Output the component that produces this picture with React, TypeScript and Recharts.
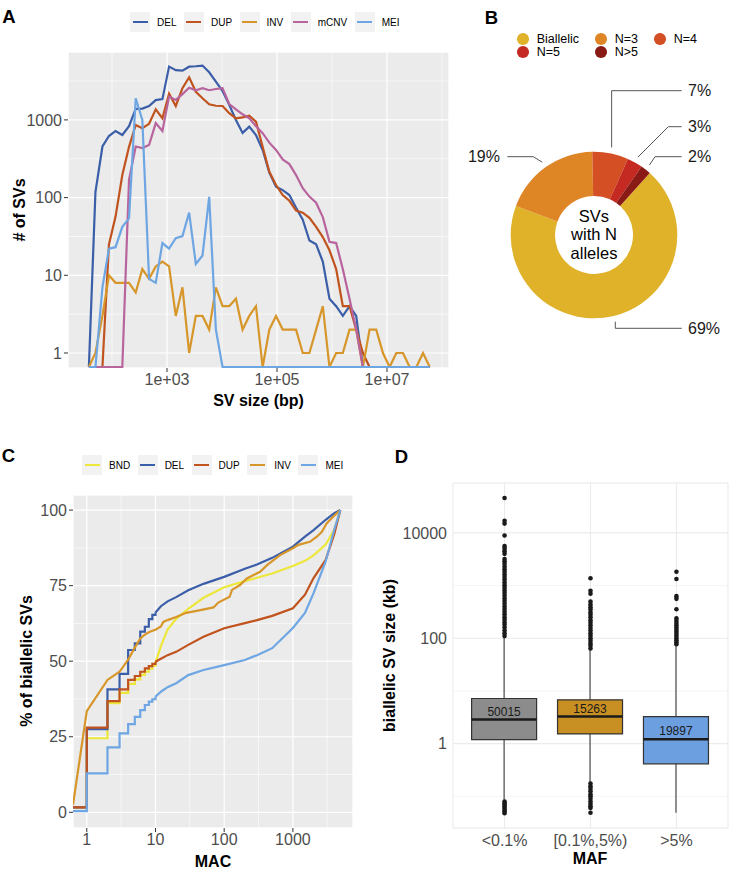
import React from "react"
import {
  Bar,
  CartesianGrid,
  Cell,
  ComposedChart,
  Line,
  LineChart,
  Pie,
  PieChart,
  Scatter,
  XAxis,
  YAxis,
} from "recharts"

const FONT = '"Liberation Sans", Arial, Helvetica, sans-serif'
const TICK = { fill: "#4d4d4d", fontSize: 16, fontFamily: FONT }
const PANEL_BG = "#ebebeb"

// ---------- A: SV size distribution ----------
// bin centres (bp)
const sizeBins = [
  38, 50, 67, 88, 116, 154, 204, 270, 356, 472, 624, 825, 1091, 1444, 1910, 2527, 3342, 4421, 5848,
  7736, 10233, 13536, 17906, 23686, 31333, 41448, 54828, 72528, 95940, 126910, 167880, 222080,
  293760, 388590, 514040, 679980, 899490, 1189800, 1574000, 2082100, 2754200, 3643300, 4819500,
  6375300, 8433300, 11155000, 14757000, 19520000, 25823000, 34160000, 45186000, 59772000,
]
const countDEL = [
  0, 118, 455, 620, 720, 640, 830, 1390, 1400, 1510, 1800, 1850, 4850, 4370, 4300, 4840, 4900, 5000,
  4100, 3100, 2350, 1560, 1000, 680, 820, 640, 410, 210, 138, 125, 108, 74, 52, 28, 25, 15, 5, 4, 3,
  4, 3, 0, 0, 0, 0, 0, 0, 0, 0, 0, 0, 0,
]
const countDUP = [
  0, 0, 0, 25, 57, 195, 450, 860, 780, 890, 1370, 1050, 2180, 1510, 2560, 3540, 2300, 1900, 1590,
  1520, 1510, 1220, 1050, 1080, 1130, 950, 450, 215, 145, 108, 91, 68, 64, 55, 42, 31, 21, 12, 4, 4,
  2, 1, 0, 0, 0, 0, 0, 0, 0, 0, 0, 0,
]
const countINV = [
  0, 1, 3, 10, 8, 8, 8, 6, 12, 9, 13, 15, 13, 3, 7, 1, 3, 3, 2, 7, 4, 4, 5, 2, 3, 4, 0, 2, 3, 2, 2, 2,
  1, 1, 2, 4, 0, 1, 1, 2, 2, 0, 2, 2, 1, 0, 1, 1, 0, 0, 1, 0,
]
const countMCNV = [
  0, 0, 0, 0, 0, 0, 170, 455, 435, 475, 910, 720, 2000, 1810, 2150, 2600, 2410, 2560, 2410, 2500,
  2560, 1600, 1370, 1180, 1050, 830, 675, 510, 410, 310, 270, 195, 132, 103, 86, 56, 27, 26, 12, 5, 2,
  0, 0, 0, 0, 0, 0, 0, 0, 0, 0, 0,
]
const countMEI = [
  0, 0, 7, 22, 23, 42, 54, 1900, 1000, 9, 8, 26, 22, 30, 32, 64, 14, 18, 102, 2, 0, 0, 0, 0, 0, 0, 0,
  0, 0, 0, 0, 0, 0, 0, 0, 0, 0, 0, 0, 0, 0, 0, 0, 0, 0, 0, 0, 0, 0, 0, 0, 0,
]
const seriesA = [
  { name: "DEL", color: "#3b5ea8", values: countDEL },
  { name: "DUP", color: "#c0531e", values: countDUP },
  { name: "INV", color: "#d6962a", values: countINV },
  { name: "mCNV", color: "#b8649d", values: countMCNV },
  { name: "MEI", color: "#6ea6e3", values: countMEI },
]
const FLOOR = 0.66 // empty bins sit on the panel floor
const sizeTable = sizeBins.map((size, i) => {
  const row: Record<string, number> = { size }
  seriesA.forEach((s) => {
    row[s.name] = s.values[i] > 0 ? s.values[i] : FLOOR
  })
  return row
})

// ---------- B: number of alleles ----------
const alleleClasses = ["Biallelic", "N=3", "N=4", "N=5", "N>5"]
const allelePct = [69, 19, 7, 3, 2]
const alleleColors = ["#dfb22a", "#de8626", "#d44f23", "#c42a21", "#8a1a15"]
const pieData = alleleClasses.map((name, i) => ({ name, value: allelePct[i] }))

// ---------- C: cumulative MAC ----------
const macStep = [0.63, 1, 2, 3, 4, 5, 6, 7, 8, 9, 10]
const macSmooth = [10, 12, 15, 20, 30, 50, 100, 200, 300, 500, 1000, 1500, 2000, 3000, 4000, 4900]
const macInv = [
  0.63, 1, 2, 3, 4, 5, 6, 7, 8, 9, 10, 12, 13, 15, 20, 28, 45, 70, 82, 120, 130, 170, 214, 333, 420,
  650, 1000, 1200, 1770, 2230, 2640, 3100, 3670, 4100, 4900,
]
const bndStep = [1.6, 24.5, 36.1, 39.5, 42.5, 44, 45.5, 46.5, 47.5, 48.5, 49.5]
const bndSmooth = [49.5, 55, 60.5, 64, 67.3, 71, 74.5, 76.5, 77.6, 79, 81.5, 83.2, 85, 88.6, 93.5, 100]
const delStep = [1.6, 27.5, 40.7, 45.8, 53.7, 55.9, 59.8, 61.4, 63.9, 65.3, 66.1]
const delSmooth = [66.1, 68.2, 69.8, 71.2, 73.5, 75.6, 77.9, 80.6, 82, 84.2, 87.9, 91.2, 93.4, 96.8, 99, 100]
const dupStep = [1.6, 28, 36.8, 40.7, 43.8, 45.1, 46.5, 47.6, 48.4, 49.1, 49.8]
const dupSmooth = [49.8, 50.8, 52, 53.1, 55.4, 58.1, 60.9, 62.6, 63.6, 65, 67.5, 72, 77.5, 83.5, 92, 100]
const meiStep = [0.4, 12.9, 21.5, 26.1, 29.2, 31.6, 33.8, 35.5, 36.6, 37.4, 38.3]
const meiSmooth = [38.3, 39.9, 41.4, 42.7, 45.4, 47.1, 48.7, 50.4, 52, 54.3, 61, 66, 72.5, 83, 93.5, 100]
const invCum = [
  2.5, 33.5, 43.8, 46.5, 50.5, 54.5, 57.5, 58.8, 59.6, 60.1, 60.4, 61.5, 63, 63.6, 64.6, 66, 66.9,
  67.8, 69.4, 71.3, 73.6, 75.2, 77.4, 79.6, 81.8, 85.1, 87.4, 88.5, 89.5, 91.2, 92.8, 95.6, 97.3, 98.4,
  100,
]
const seriesC = [
  { name: "BND", color: "#ede63b", step: bndStep, smooth: bndSmooth },
  { name: "DEL", color: "#3b5ea8", step: delStep, smooth: delSmooth },
  { name: "DUP", color: "#c0531e", step: dupStep, smooth: dupSmooth },
  { name: "INV", color: "#d6962a", step: null, smooth: invCum },
  { name: "MEI", color: "#6ea6e3", step: meiStep, smooth: meiSmooth },
]
const macRows = new Map<number, Record<string, number>>()
const putMac = (mac: number, key: string, v: number) => {
  const row = macRows.get(mac) ?? { mac }
  row[key] = v
  macRows.set(mac, row)
}
seriesC.forEach((s) => {
  if (s.step) {
    macStep.forEach((m, i) => putMac(m, s.name + "_s", s.step![i]))
    macSmooth.forEach((m, i) => putMac(m, s.name + "_l", s.smooth[i]))
  } else {
    macInv.forEach((m, i) => putMac(m, s.name + "_l", s.smooth[i]))
  }
})
const macTable = [...macRows.values()].sort((a, b) => a.mac - b.mac)

// ---------- D: size by MAF ----------
const mafGroups = ["<0.1%", "[0.1%,5%)", ">5%"]
const groupN = ["50015", "15263", "19897"]
const boxColors = ["#8c8c8c", "#c88f22", "#6c9fe0"]
const boxQ1 = [1.19, 1.53, 0.415]
const boxMedian = [2.87, 3.27, 1.21]
const boxQ3 = [7.2, 6.8, 3.27]
const whiskerLow = [0.086, 0.18, 0.049]
const whiskerHigh = [103, 62, 71]
const outliersLow = [
  [0.08, 0.075, 0.07, 0.065, 0.06, 0.056, 0.052, 0.048],
  [0.175, 0.155, 0.14, 0.125, 0.11, 0.1, 0.09, 0.08, 0.072, 0.065, 0.06, 0.049],
  [],
]
const outliersHigh = [
  [
    110, 125, 140, 160, 180, 200, 225, 250, 285, 320, 360, 400, 450, 510, 570, 640, 720, 810, 910,
    1020, 1150, 1300, 1450, 1630, 1830, 2050, 2300, 2600, 2900, 3200, 4000, 4500, 5000, 5600, 8900,
    15000, 17000, 46000,
  ],
  [64, 72, 80, 90, 100, 112, 125, 140, 157, 176, 197, 220, 250, 280, 310, 350, 390, 440, 500, 700, 800, 1380],
  [77, 84, 92, 100, 110, 121, 133, 146, 160, 176, 195, 215, 240, 355, 560, 630, 1330, 1830],
]
const boxTable = mafGroups.map((maf, i) => ({
  maf,
  whisker: [whiskerLow[i], whiskerHigh[i]],
  box: [boxQ1[i], boxQ3[i]],
  median: [boxMedian[i], boxMedian[i]],
  n: groupN[i],
}))
const outlierPts = mafGroups.flatMap((_, i) =>
  [...outliersLow[i], ...outliersHigh[i]].map((v) => ({ g: i, v })),
)

const sci = (v: number) => `1e+${String(Math.round(Math.log10(v))).padStart(2, "0")}`

function LineLegend({ items, left, top }: { items: { name: string; color: string }[]; left: number; top: number }) {
  return (
    <div style={{ position: "absolute", left, top, display: "flex", alignItems: "center", fontSize: 10, fontFamily: FONT }}>
      {items.map((it) => (
        <div key={it.name} style={{ display: "flex", alignItems: "center", marginRight: 7.5 }}>
          <div style={{ width: 20, height: 20, background: "#f2f2f2", position: "relative" }}>
            <div style={{ position: "absolute", left: 2.5, right: 2.5, top: 9, height: 2.2, background: it.color }} />
          </div>
          <span style={{ marginLeft: 7 }}>{it.name}</span>
        </div>
      ))}
    </div>
  )
}

function PanelA() {
  const domX: [number, number] = [15.85, 1.34e8]
  const domY: [number, number] = [0.641, 7480]
  return (
    <LineChart width={460} height={400} data={sizeTable} margin={{ top: 52, right: 11, bottom: 0, left: 8 }}>
      <CartesianGrid xAxisId="m" yAxisId="m" fill={PANEL_BG} fillOpacity={1} stroke="#fff" strokeWidth={0.6} />
      <CartesianGrid stroke="#fff" strokeWidth={1.2} />
      <XAxis xAxisId="m" dataKey="size" type="number" scale="log" domain={domX} ticks={[1e2, 1e4, 1e6, 1e8]} allowDataOverflow hide />
      <YAxis yAxisId="m" type="number" scale="log" domain={domY} ticks={[3.16, 31.6, 316, 3162]} allowDataOverflow hide />
      <XAxis
        dataKey="size"
        type="number"
        scale="log"
        domain={domX}
        ticks={[1e3, 1e5, 1e7]}
        tickFormatter={sci}
        allowDataOverflow
        axisLine={false}
        stroke="#333"
        tickSize={4}
        tickMargin={2}
        tick={TICK}
        height={32}
      />
      <YAxis
        type="number"
        scale="log"
        domain={domY}
        ticks={[1, 10, 100, 1000]}
        allowDataOverflow
        axisLine={false}
        stroke="#333"
        tickSize={4}
        tickMargin={2}
        tick={TICK}
        width={60}
      />
      {seriesA.map((s) => (
        <Line key={s.name} dataKey={s.name} type="linear" stroke={s.color} strokeWidth={2.2} dot={false} activeDot={false} isAnimationActive={false} />
      ))}
    </LineChart>
  )
}

const pieLabelLayout: Record<string, { ly: number; ex: number | null; endX: number; tx: number; anchor: "start" | "end" }> = {
  Biallelic: { ly: 93.3, ex: null, endX: 87.7, tx: 94, anchor: "start" },
  "N=3": { ly: -78.3, ex: -60.7, endX: -86.7, tx: -94, anchor: "end" },
  "N=4": { ly: -144.3, ex: null, endX: 87.7, tx: 94, anchor: "start" },
  "N=5": { ly: -108.3, ex: 74.3, endX: 87.7, tx: 94, anchor: "start" },
  "N>5": { ly: -78.3, ex: 61, endX: 87.7, tx: 94, anchor: "start" },
}

function renderPieLabel(props: any) {
  const { cx, cy, midAngle, outerRadius, percent, name } = props
  const L = pieLabelLayout[name]
  const rad = (-midAngle * Math.PI) / 180
  const sx = cx + (outerRadius + 6) * Math.cos(rad)
  const sy = cy + (outerRadius + 6) * Math.sin(rad)
  const ex = L.ex === null ? sx : cx + L.ex
  const ly = cy + L.ly
  return (
    <g>
      <polyline points={`${sx},${sy} ${ex},${ly} ${cx + L.endX},${ly}`} fill="none" stroke="#555" strokeWidth={1} />
      <text x={cx + L.tx} y={ly} textAnchor={L.anchor} dominantBaseline="central" fontSize={16} fontFamily={FONT} fill="#1a1a1a">
        {`${Math.round(percent * 100)}%`}
      </text>
    </g>
  )
}

function PanelB() {
  return (
    <PieChart width={296} height={330} margin={{ top: 0, right: 0, bottom: 0, left: 0 }}>
      <Pie
        data={pieData}
        dataKey="value"
        nameKey="name"
        cx={154}
        cy={195}
        innerRadius={39}
        outerRadius={83.3}
        startAngle={48}
        endAngle={-312}
        stroke="none"
        label={renderPieLabel}
        labelLine={false}
        isAnimationActive={false}
      >
        {pieData.map((d, i) => (
          <Cell key={d.name} fill={alleleColors[i]} />
        ))}
      </Pie>
    </PieChart>
  )
}

function PanelC() {
  const domX: [number, number] = [0.63, 7500]
  const domY: [number, number] = [-5.2, 105]
  return (
    <LineChart width={365} height={440} data={macTable} margin={{ top: 65, right: 12, bottom: 10, left: 8 }}>
      <CartesianGrid xAxisId="m" yAxisId="m" fill={PANEL_BG} fillOpacity={1} stroke="#fff" strokeWidth={0.6} />
      <CartesianGrid stroke="#fff" strokeWidth={1.2} />
      <XAxis xAxisId="m" dataKey="mac" type="number" scale="log" domain={domX} ticks={[3.16, 31.6, 316, 3162]} allowDataOverflow hide />
      <YAxis yAxisId="m" type="number" domain={domY} ticks={[12.5, 37.5, 62.5, 87.5]} allowDataOverflow hide />
      <XAxis
        dataKey="mac"
        type="number"
        scale="log"
        domain={domX}
        ticks={[1, 10, 100, 1000]}
        allowDataOverflow
        axisLine={false}
        stroke="#333"
        tickSize={4}
        tickMargin={2}
        tick={TICK}
        height={32}
      />
      <YAxis
        type="number"
        domain={domY}
        ticks={[0, 25, 50, 75, 100]}
        allowDataOverflow
        axisLine={false}
        stroke="#333"
        tickSize={4}
        tickMargin={2}
        tick={TICK}
        width={65}
      />
      {seriesC.flatMap((s) => {
        const out = []
        if (s.step)
          out.push(
            <Line key={s.name + "s"} dataKey={s.name + "_s"} type="stepAfter" stroke={s.color} strokeWidth={2.2} dot={false} activeDot={false} connectNulls isAnimationActive={false} />,
          )
        out.push(
          <Line key={s.name + "l"} dataKey={s.name + "_l"} type="linear" stroke={s.color} strokeWidth={2.2} dot={false} activeDot={false} connectNulls isAnimationActive={false} />,
        )
        return out
      })}
    </LineChart>
  )
}

const WhiskerShape = (p: any) => (
  <line x1={p.x + p.width / 2} x2={p.x + p.width / 2} y1={p.y} y2={p.y + p.height} stroke="#595959" strokeWidth={1.3} />
)
const MedianShape = (p: any) => {
  const ym = p.y + p.height / 2
  return (
    <g>
      <line x1={p.x} x2={p.x + p.width} y1={ym} y2={ym} stroke="#1a1a1a" strokeWidth={2.4} />
      <text x={p.x + p.width / 2} y={ym - 8} textAnchor="middle" dominantBaseline="central" fontSize={12} fontFamily={FONT} fill="#1a1a1a">
        {p.payload?.n}
      </text>
    </g>
  )
}
const DotShape = (p: any) => <circle cx={p.cx} cy={p.cy} r={2.3} fill="#1a1a1a" />

function PanelD() {
  const domY: [number, number] = [0.0251, 88500]
  const pad = { left: 8.6, right: 8.6 }
  return (
    <ComposedChart width={361} height={440} data={boxTable} margin={{ top: 53, right: 8, bottom: 12, left: 8 }}>
      <CartesianGrid xAxisId="pts" yAxisId="m" vertical={false} stroke="#f1f1f1" strokeWidth={0.7} />
      <CartesianGrid xAxisId="pts" stroke="#ebebeb" strokeWidth={1.1} />
      <XAxis xAxisId="box" dataKey="maf" type="category" padding={pad} axisLine={false} tickLine={false} tickSize={0} tickMargin={7} tick={TICK} height={30} />
      <XAxis xAxisId="wh" dataKey="maf" type="category" padding={pad} hide />
      <XAxis xAxisId="md" dataKey="maf" type="category" padding={pad} hide />
      <XAxis xAxisId="pts" dataKey="g" type="number" domain={[-0.6, 2.6]} ticks={[0, 1, 2]} allowDataOverflow hide />
      <YAxis yAxisId="m" type="number" scale="log" domain={domY} ticks={[0.1, 10, 1000]} allowDataOverflow hide />
      <YAxis
        type="number"
        scale="log"
        domain={domY}
        ticks={[1, 100, 10000]}
        allowDataOverflow
        axisLine={false}
        tickLine={false}
        tickSize={0}
        tickMargin={6}
        tick={TICK}
        width={70}
      />
      <Bar xAxisId="wh" dataKey="whisker" barSize={65} shape={WhiskerShape} isAnimationActive={false} />
      <Bar xAxisId="box" dataKey="box" barSize={65} stroke="#333" strokeWidth={1.2} isAnimationActive={false}>
        {boxTable.map((d, i) => (
          <Cell key={d.maf} fill={boxColors[i]} />
        ))}
      </Bar>
      <Bar xAxisId="md" dataKey="median" barSize={65} shape={MedianShape} isAnimationActive={false} />
      <Scatter xAxisId="pts" data={outlierPts} dataKey="v" shape={DotShape} isAnimationActive={false} />
    </ComposedChart>
  )
}

function Title({ x, y, children, rotate, size = 16, bold = true }: any) {
  return (
    <text
      x={x}
      y={y}
      textAnchor="middle"
      dominantBaseline="central"
      fontSize={size}
      fontWeight={bold ? "bold" : "normal"}
      fontFamily={FONT}
      fill="#000"
      transform={rotate ? `rotate(-90 ${x} ${y})` : undefined}
    >
      {children}
    </text>
  )
}

export default function App() {
  return (
    <div style={{ position: "absolute", left: 0, top: 0, width: 736, height: 877, background: "#fff", overflow: "hidden", fontFamily: FONT }}>
      <div style={{ position: "absolute", left: 0, top: 0 }}>
        <PanelA />
      </div>
      <div style={{ position: "absolute", left: 440, top: 40 }}>
        <PanelB />
      </div>
      <div style={{ position: "absolute", left: 0, top: 430 }}>
        <PanelC />
      </div>
      <div style={{ position: "absolute", left: 375, top: 430 }}>
        <PanelD />
      </div>

      <LineLegend items={seriesA} left={130} top={12} />
      <LineLegend items={seriesC} left={82} top={455} />

      <div
        style={{
          position: "absolute",
          left: 517,
          top: 32.5,
          display: "grid",
          gridTemplateColumns: "auto auto auto",
          columnGap: 16,
          fontSize: 12.5,
          lineHeight: "13px",
          fontFamily: FONT,
        }}
      >
        {alleleClasses.map((name, i) => (
          <div key={name} style={{ display: "flex", alignItems: "center", height: 13 }}>
            <span style={{ width: 11.7, height: 11.7, borderRadius: "50%", background: alleleColors[i], marginRight: 8, display: "inline-block" }} />
            {name}
          </div>
        ))}
      </div>

      <svg width={736} height={877} style={{ position: "absolute", left: 0, top: 0, pointerEvents: "none" }}>
        <Title x={9} y={16.5} size={18.5}>A</Title>
        <Title x={491.5} y={17.5} size={18.5}>B</Title>
        <Title x={8.5} y={455} size={18.5}>C</Title>
        <Title x={401.5} y={456.5} size={18.5}>D</Title>

        <Title x={258.5} y={400}>SV size (bp)</Title>
        <Title x={19} y={210} rotate>
          # of SVs
        </Title>
        <Title x={213} y={861}>MAC</Title>
        <Title x={26} y={661} rotate>
          % of biallelic SVs
        </Title>
        <Title x={590} y={858}>MAF</Title>
        <Title x={389} y={655.5} rotate>
          biallelic SV size (kb)
        </Title>

        <Title x={594} y={215.5} size={16.5} bold={false}>SVs</Title>
        <Title x={594} y={233.7} size={16.5} bold={false}>with N</Title>
        <Title x={594} y={252.7} size={16.5} bold={false}>alleles</Title>
      </svg>
    </div>
  )
}
